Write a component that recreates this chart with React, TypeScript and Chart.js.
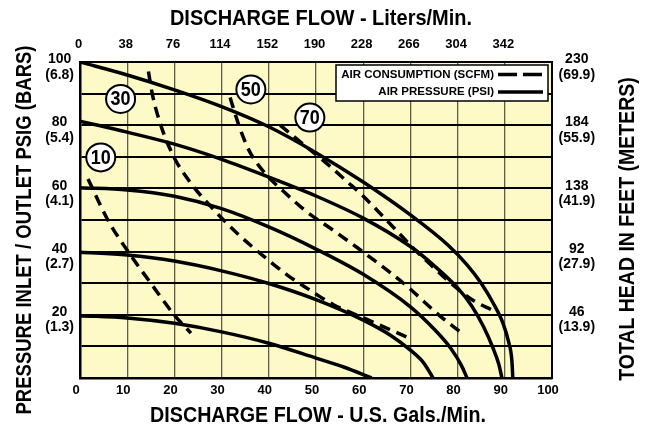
import { useEffect, useRef } from 'react';
import { Chart, registerables } from 'chart.js';

Chart.register(...registerables);

const W = 647;
const H = 428;
const FONT = "'Liberation Sans', Arial, Helvetica, sans-serif";

// Tick labels
const lpmLabels = ['0', '38', '76', '114', '152', '190', '228', '266', '304', '342'];
const psiTicks = [20, 40, 60, 80, 100];
const psiLabels = ['20', '40', '60', '80', '100'];
const barLabels = ['(1.3)', '(2.7)', '(4.1)', '(5.4)', '(6.8)'];
const feetLabels = ['46', '92', '138', '184', '230'];
const meterLabels = ['(13.9)', '(27.9)', '(41.9)', '(55.9)', '(69.9)'];

// Air pressure curves (GPM, PSI)
const psi100: [number, number][] = [
  [0, 100], [10, 95.9], [20, 91.2], [30, 85.9], [40, 79.5], [50, 71.3], [60, 62],
  [70, 51.6], [78, 42], [82, 35.8], [85, 30], [87.5, 23.8], [89.6, 17.4], [90.8, 11.5],
  [91.5, 5.5], [91.7, 0],
];
const psi80: [number, number][] = [
  [0, 81.3], [10, 77.8], [20, 74], [30, 69.2], [40, 63.6], [50, 57.6], [60, 50.6],
  [70, 41.6], [75, 35.6], [80, 28.5], [83, 22.8], [85.5, 16.2], [87.5, 9.5], [88.7, 4.5],
  [89.4, 0],
];
const psi60: [number, number][] = [
  [0, 60.2], [10, 59.5], [20, 57.5], [30, 53.6], [40, 47.8], [50, 40.8], [60, 32.8],
  [70, 22.5], [75, 15.5], [78.5, 9.5], [80.8, 4], [82, 0],
];
const psi40: [number, number][] = [
  [0, 39.8], [10, 38.9], [20, 37], [30, 33.9], [40, 29.9], [50, 24.8], [60, 18.3],
  [66, 13.3], [70, 8.8], [72.8, 4.8], [74.8, 0],
];
const psi20: [number, number][] = [
  [0, 19.7], [10, 19], [20, 17.3], [30, 14.6], [40, 11], [50, 6.3], [56, 3.4], [61.8, 0],
];

// Air consumption curves (GPM, PSI)
const scfm10: [number, number][] = [
  [1.7, 63], [5.9, 50], [10, 40.4], [15, 30], [20, 19.9], [23.5, 14.2],
];
const scfm30: [number, number][] = [
  [14.5, 97], [15.3, 90], [16.9, 81], [19.7, 70.5], [23.3, 62], [28.5, 53], [33.5, 45.5],
  [39.1, 38.3], [44, 32.5], [48.3, 28.2], [53.7, 23.2], [60.7, 18.6], [69.2, 13],
];
const scfm50: [number, number][] = [
  [31.8, 88.8], [33.2, 82], [34.3, 77.3], [36, 71.5], [39.6, 64.1], [42.8, 59.5],
  [47.7, 53], [53.6, 46.8], [58.7, 41.3], [65, 34.2], [69.3, 29], [76.3, 19.6], [80.9, 14.2],
];
const scfm70: [number, number][] = [
  [42.4, 80], [46.6, 74.8], [52.5, 67.6], [56.4, 62.4], [59.7, 58], [63.5, 52.2],
  [67.8, 45.5], [71, 40.5], [74.2, 36], [77.5, 31.4], [80.5, 27.6], [83.5, 24.4], [87.3, 21.5],
];

// Circled SCFM labels and where they sit (GPM, PSI)
const scfmNames = ['10', '30', '50', '70'];
const scfmLabelAt: [number, number][] = [[4.4, 69.8], [8.6, 88.3], [36.2, 91.3], [48.7, 82.4]];

const legendNames = ['AIR CONSUMPTION (SCFM)', 'AIR PRESSURE (PSI)'];

function toPts(a: [number, number][]) {
  return a.map(([x, y]) => ({ x, y }));
}

export default function App() {
  const ref = useRef<HTMLCanvasElement>(null);

  useEffect(() => {
    const canvas = ref.current;
    if (!canvas) return;

    const solid = (d: [number, number][]) => ({
      data: toPts(d),
      borderColor: '#000',
      backgroundColor: '#000',
      borderWidth: 3.5,
      showLine: true,
      pointRadius: 0,
      fill: false,
      cubicInterpolationMode: 'monotone' as const,
      borderCapStyle: 'butt' as const,
    });
    const dashed = (d: [number, number][]) => ({ ...solid(d), borderDash: [11, 7] });

    const tickFont = (size: number, lh = 1.2) => ({ family: FONT, size, weight: 'bold' as const, lineHeight: lh });

    const bgPlugin = {
      id: 'bgFill',
      beforeDraw(chart: any) {
        const { ctx, chartArea } = chart;
        const { left, top, right, bottom } = chartArea;
        ctx.save();
        ctx.fillStyle = '#FEFAC8';
        ctx.fillRect(left, top, right - left, bottom - top);
        ctx.restore();
      },
    };

    const drawTitle = (ctx: CanvasRenderingContext2D, text: string, x: number, y: number, rot: number, size: number, sy: number) => {
      ctx.save();
      ctx.translate(x, y);
      ctx.rotate(rot);
      ctx.scale(1, sy);
      ctx.font = `bold ${size}px ${FONT}`;
      ctx.textAlign = 'center';
      ctx.textBaseline = 'middle';
      ctx.fillStyle = '#000';
      ctx.fillText(text, 0, 0);
      ctx.restore();
    };

    const overlay = {
      id: 'overlay',
      afterDraw(chart: any) {
        const { ctx, chartArea: ca, scales } = chart;
        const xs = scales.x;
        const ys = scales.y;
        ctx.save();

        // circled labels
        scfmLabelAt.forEach(([gx, gy], i) => {
          const px = xs.getPixelForValue(gx);
          const py = ys.getPixelForValue(gy);
          ctx.beginPath();
          ctx.ellipse(px, py, 14.5, 14, 0, 0, Math.PI * 2);
          ctx.fillStyle = '#fff';
          ctx.fill();
          ctx.lineWidth = 2;
          ctx.strokeStyle = '#000';
          ctx.stroke();
          ctx.save();
          ctx.translate(px, py + 1);
          ctx.scale(1, 1.1);
          ctx.fillStyle = '#000';
          ctx.font = `bold 18px ${FONT}`;
          ctx.textAlign = 'center';
          ctx.textBaseline = 'middle';
          ctx.fillText(scfmNames[i], 0, 0);
          ctx.restore();
        });

        // legend box
        const bw = 212;
        const bh = 36;
        const bx = ca.right - 4 - bw;
        const by = ca.top + 3;
        ctx.fillStyle = '#fff';
        ctx.fillRect(bx, by, bw, bh);
        ctx.lineWidth = 1.5;
        ctx.strokeStyle = '#000';
        ctx.strokeRect(bx, by, bw, bh);
        ctx.font = `bold 11.5px ${FONT}`;
        ctx.textAlign = 'right';
        ctx.textBaseline = 'middle';
        ctx.fillStyle = '#000';
        const tx = bx + bw - 54;
        const y1 = by + 9.5;
        const y2 = by + 27;
        ctx.fillText(legendNames[0], tx, y1);
        ctx.fillText(legendNames[1], tx, y2);
        ctx.lineWidth = 3.5;
        ctx.beginPath();
        ctx.setLineDash([19, 6]);
        ctx.moveTo(tx + 4, y1);
        ctx.lineTo(tx + 48, y1);
        ctx.stroke();
        ctx.setLineDash([]);
        ctx.beginPath();
        ctx.moveTo(tx + 4, y2);
        ctx.lineTo(tx + 49, y2);
        ctx.stroke();
        ctx.restore();

        // axis titles
        const cx = (ca.left + ca.right) / 2;
        drawTitle(ctx, 'DISCHARGE FLOW - Liters/Min.', cx + 5, 19, 0, 20, 1.1);
        drawTitle(ctx, 'DISCHARGE FLOW - U.S. Gals./Min.', cx + 2, 416, 0, 19.7, 1.1);
        drawTitle(ctx, 'PRESSURE INLET / OUTLET PSIG (BARS)', 25, 230, -Math.PI / 2, 18.5, 1.15);
        drawTitle(ctx, 'TOTAL HEAD IN FEET (METERS)', 628, 229, -Math.PI / 2, 19.5, 1.15);
      },
    };

    const yLabel = (names: string[], subs: string[]) => (v: number | string) => {
      const i = psiTicks.indexOf(Math.round(Number(v)));
      return i >= 0 ? [names[i], subs[i]] : '';
    };

    const chart = new Chart(canvas, {
      type: 'scatter',
      data: {
        datasets: [
          dashed(scfm10), dashed(scfm30), dashed(scfm50), dashed(scfm70),
          solid(psi20), solid(psi40), solid(psi60), solid(psi80), solid(psi100),
        ] as any,
      },
      options: {
        responsive: false,
        animation: false,
        devicePixelRatio: 1,
        events: [],
        layout: { padding: 0 },
        plugins: { legend: { display: false }, tooltip: { enabled: false } },
        scales: {
          x: {
            type: 'linear',
            position: 'bottom',
            min: 0,
            max: 100,
            ticks: {
              stepSize: 10, autoSkip: false, maxRotation: 0, padding: 5, labelOffset: -4,
              color: '#000', font: tickFont(13),
            },
            grid: { color: '#5e5c4a', lineWidth: 1.3, drawTicks: false },
            border: { color: '#000', width: 2.5 },
            afterFit(s: any) { s.height = 50; },
          },
          x2: {
            type: 'linear',
            position: 'top',
            min: 0,
            max: 100,
            ticks: {
              stepSize: 10, autoSkip: false, maxRotation: 0, padding: 10, labelOffset: -1.5,
              color: '#000', font: tickFont(13),
              callback: (v: number | string) => {
                const i = Math.round(Number(v) / 10);
                return i < lpmLabels.length ? lpmLabels[i] : '';
              },
            },
            grid: { display: false, drawTicks: false },
            border: { color: '#000', width: 2 },
            afterFit(s: any) { s.height = 62; },
          },
          y: {
            type: 'linear',
            position: 'left',
            min: 0,
            max: 100,
            ticks: {
              stepSize: 10, autoSkip: false, padding: 6, labelOffset: 5, crossAlign: 'center',
              color: '#000', font: tickFont(14, 1.1),
              callback: yLabel(psiLabels, barLabels),
            },
            grid: { color: '#000', lineWidth: 2, drawTicks: false },
            border: { color: '#000', width: 2.5 },
            afterFit(s: any) { s.width = 80; },
          },
          y2: {
            type: 'linear',
            position: 'right',
            min: 0,
            max: 100,
            ticks: {
              stepSize: 10, autoSkip: false, padding: 6.5, labelOffset: 5, crossAlign: 'center',
              color: '#000', font: tickFont(14, 1.1),
              callback: yLabel(feetLabels, meterLabels),
            },
            grid: { display: false, drawTicks: false },
            border: { color: '#000', width: 2 },
            afterFit(s: any) { s.width = 95; },
          },
        },
      } as any,
      plugins: [bgPlugin, overlay],
    });

    return () => chart.destroy();
  }, []);

  return (
    <div style={{ position: 'fixed', left: 0, top: 0, width: W, height: H, background: '#fff' }}>
      <canvas ref={ref} width={W} height={H} style={{ width: W, height: H, display: 'block' }} />
    </div>
  );
}
